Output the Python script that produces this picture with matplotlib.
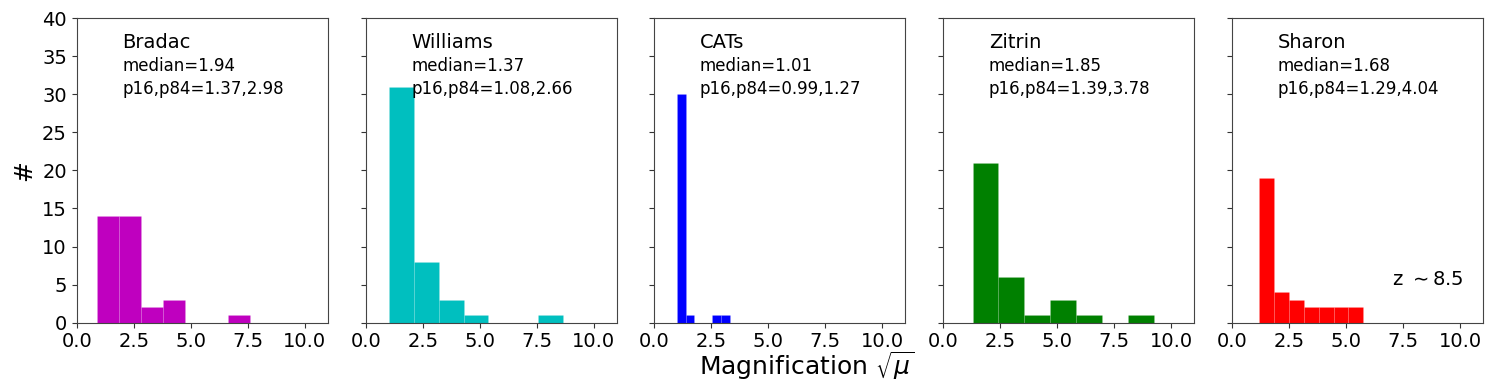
import numpy as np
import matplotlib
matplotlib.use("Agg")
import matplotlib.pyplot as plt

names = ["Bradac", "Williams", "CATs", "Zitrin", "Sharon"]
colors = ["m", "c", "b", "g", "r"]
medians = ["1.94", "1.37", "1.01", "1.85", "1.68"]
p16 = ["1.37", "1.08", "0.99", "1.39", "1.29"]
p84 = ["2.98", "2.66", "1.27", "3.78", "4.04"]

edges_bradac = [0.89, 1.85, 2.81, 3.77, 4.73, 5.69, 6.65, 7.61]
counts_bradac = [14, 14, 2, 3, 0, 0, 1]
edges_williams = [1.03, 2.12, 3.20, 4.29, 5.37, 6.46, 7.55, 8.63]
counts_williams = [31, 8, 3, 1, 0, 0, 1]
edges_cats = [0.98, 1.37, 1.75, 2.14, 2.53, 2.92, 3.30]
counts_cats = [30, 1, 0, 0, 1, 1]
edges_zitrin = [1.28, 2.41, 3.55, 4.68, 5.81, 6.95, 8.09, 9.23]
counts_zitrin = [21, 6, 1, 3, 1, 0, 1]
edges_sharon = [1.18, 1.83, 2.48, 3.14, 3.79, 4.44, 5.09, 5.74]
counts_sharon = [19, 4, 3, 2, 2, 2, 2]

edges_all = [edges_bradac, edges_williams, edges_cats, edges_zitrin, edges_sharon]
counts_all = [counts_bradac, counts_williams, counts_cats, counts_zitrin, counts_sharon]

xticks = [0.0, 2.5, 5.0, 7.5, 10.0]
yticks = [0, 5, 10, 15, 20, 25, 30, 35, 40]

W, H = 1494, 392
fig = plt.figure(figsize=(W / 100, H / 100), dpi=100)

lefts_px = [76.7, 365.7, 654.3, 943.3, 1232.3]
width_px = 251.0
top_px, bottom_px = 18.0, 322.7

for i in range(5):
    ax = fig.add_axes([lefts_px[i] / W, 1 - bottom_px / H, width_px / W, (bottom_px - top_px) / H])
    e = np.array(edges_all[i])
    c = np.array(counts_all[i])
    ax.bar(e[:-1], c, width=np.diff(e), align="edge", color=colors[i],
           edgecolor=(1, 1, 1, 0.12), linewidth=0.5)
    ax.set_xlim(0, 11)
    ax.set_ylim(0, 40)
    ax.set_xticks(xticks)
    ax.set_yticks(yticks)
    ax.tick_params(labelsize=14, color="#333333")
    for s in ax.spines.values():
        s.set_edgecolor("#444444")
    if i > 0:
        ax.set_yticklabels([])
    else:
        ax.set_ylabel("#", fontsize=18)
    ax.text(2.0, 36, names[i], fontsize=14)
    ax.text(2.0, 33, "median=" + medians[i], fontsize=12)
    ax.text(2.0, 30, "p16,p84=" + p16[i] + "," + p84[i], fontsize=12)
    if i == 4:
        ax.text(7.0, 5, r"z $\sim$8.5", fontsize=14)

fig.text(807 / W, 17 / H, r"Magnification $\sqrt{\mu}$", fontsize=18, ha="center", va="baseline")

fig.savefig("out.png", dpi=100)
